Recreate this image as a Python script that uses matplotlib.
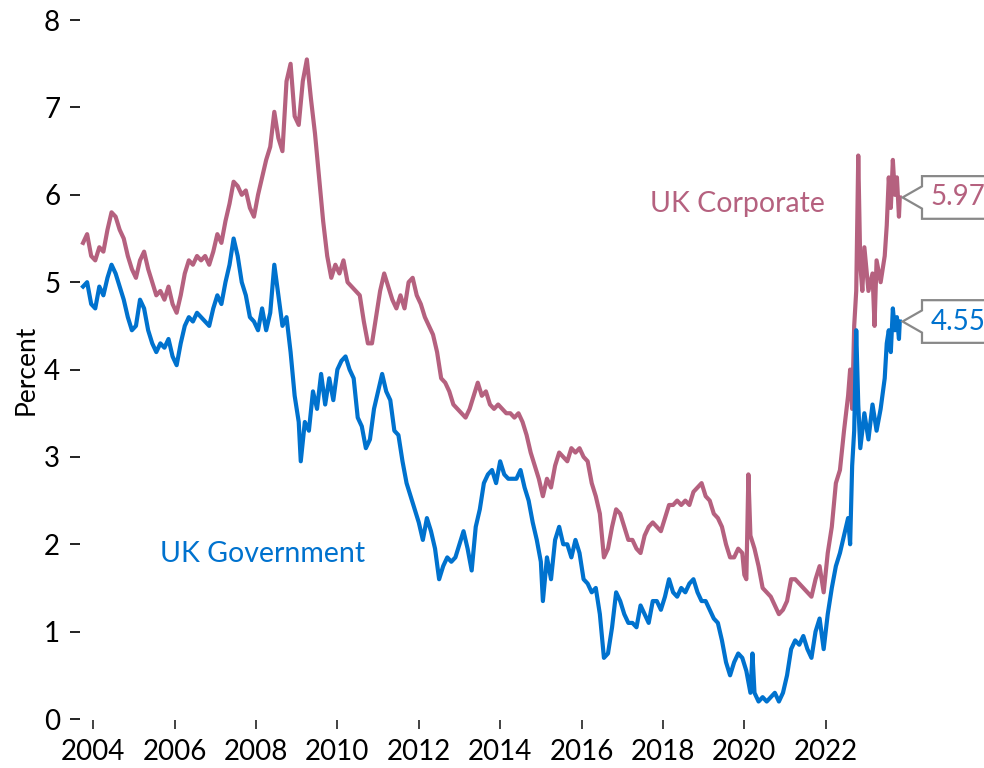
import numpy as np
import matplotlib.pyplot as plt
from matplotlib.path import Path

# UK corporate bond yields (percent)
corp_years = [2003.75, 2003.85, 2003.95, 2004.05, 2004.15, 2004.25, 2004.35, 2004.45, 2004.55, 2004.65,
              2004.75, 2004.85, 2004.95, 2005.05, 2005.15, 2005.25, 2005.35, 2005.45, 2005.55, 2005.65,
              2005.75, 2005.85, 2005.95, 2006.05, 2006.15, 2006.25, 2006.35, 2006.45, 2006.55, 2006.65,
              2006.75, 2006.85, 2006.95, 2007.05, 2007.15, 2007.25, 2007.35, 2007.45, 2007.55, 2007.65,
              2007.75, 2007.85, 2007.95, 2008.05, 2008.15, 2008.25, 2008.35, 2008.45, 2008.55, 2008.65,
              2008.75, 2008.85, 2008.95, 2009.05, 2009.15, 2009.25, 2009.35, 2009.45, 2009.55, 2009.65,
              2009.75, 2009.85, 2009.95, 2010.05, 2010.15, 2010.25, 2010.35, 2010.45, 2010.55, 2010.65,
              2010.75, 2010.85, 2010.95, 2011.05, 2011.15, 2011.25, 2011.35, 2011.45, 2011.55, 2011.65,
              2011.75, 2011.85, 2011.95, 2012.05, 2012.15, 2012.25, 2012.35, 2012.45, 2012.55, 2012.65,
              2012.75, 2012.85, 2012.95, 2013.05, 2013.15, 2013.25, 2013.35, 2013.45, 2013.55, 2013.65,
              2013.75, 2013.85, 2013.95, 2014.05, 2014.15, 2014.25, 2014.35, 2014.45, 2014.55, 2014.65,
              2014.75, 2014.85, 2014.95, 2015.05, 2015.15, 2015.25, 2015.35, 2015.45, 2015.55, 2015.65,
              2015.75, 2015.85, 2015.95, 2016.05, 2016.15, 2016.25, 2016.35, 2016.45, 2016.55, 2016.65,
              2016.75, 2016.85, 2016.95, 2017.05, 2017.15, 2017.25, 2017.35, 2017.45, 2017.55, 2017.65,
              2017.75, 2017.85, 2017.95, 2018.05, 2018.15, 2018.25, 2018.35, 2018.45, 2018.55, 2018.65,
              2018.75, 2018.85, 2018.95, 2019.05, 2019.15, 2019.25, 2019.35, 2019.45, 2019.55, 2019.65,
              2019.75, 2019.85, 2019.95, 2020.0, 2020.05, 2020.1, 2020.15, 2020.25, 2020.35, 2020.45,
              2020.55, 2020.65, 2020.75, 2020.85, 2020.95, 2021.05, 2021.15, 2021.25, 2021.35, 2021.45,
              2021.55, 2021.65, 2021.75, 2021.85, 2021.95, 2022.05, 2022.15, 2022.25, 2022.35, 2022.45,
              2022.55, 2022.6, 2022.65, 2022.7, 2022.75, 2022.8, 2022.85, 2022.9, 2022.95, 2023.05,
              2023.15, 2023.2, 2023.25, 2023.35, 2023.45, 2023.5, 2023.55, 2023.6, 2023.65, 2023.7,
              2023.75, 2023.8, 2023.82]
corp_vals = [5.45, 5.55, 5.3, 5.25, 5.4, 5.35, 5.6, 5.8, 5.75, 5.6,
             5.5, 5.3, 5.15, 5.05, 5.25, 5.35, 5.15, 5.0, 4.85, 4.9,
             4.8, 4.95, 4.75, 4.65, 4.85, 5.1, 5.25, 5.2, 5.3, 5.25,
             5.3, 5.2, 5.35, 5.55, 5.45, 5.7, 5.9, 6.15, 6.1, 6.0,
             6.05, 5.85, 5.75, 6.0, 6.2, 6.4, 6.55, 6.95, 6.65, 6.5,
             7.3, 7.5, 6.9, 6.8, 7.3, 7.55, 7.1, 6.7, 6.2, 5.7,
             5.3, 5.05, 5.2, 5.1, 5.25, 5.0, 4.95, 4.9, 4.85, 4.55,
             4.3, 4.3, 4.6, 4.9, 5.1, 4.95, 4.8, 4.7, 4.85, 4.7,
             5.0, 5.05, 4.85, 4.75, 4.6, 4.5, 4.4, 4.2, 3.9, 3.85,
             3.75, 3.6, 3.55, 3.5, 3.45, 3.55, 3.7, 3.85, 3.7, 3.75,
             3.6, 3.55, 3.6, 3.55, 3.5, 3.5, 3.45, 3.5, 3.4, 3.25,
             3.05, 2.9, 2.75, 2.55, 2.75, 2.65, 2.9, 3.05, 3.0, 2.95,
             3.1, 3.05, 3.1, 3.0, 2.95, 2.7, 2.55, 2.35, 1.85, 1.95,
             2.2, 2.4, 2.35, 2.2, 2.05, 2.05, 1.95, 1.9, 2.1, 2.2,
             2.25, 2.2, 2.15, 2.3, 2.45, 2.45, 2.5, 2.45, 2.5, 2.45,
             2.6, 2.65, 2.7, 2.55, 2.5, 2.35, 2.3, 2.2, 2.0, 1.85,
             1.85, 1.95, 1.9, 1.65, 1.6, 2.8, 2.1, 1.95, 1.75, 1.5,
             1.45, 1.4, 1.3, 1.2, 1.25, 1.35, 1.6, 1.6, 1.55, 1.5,
             1.45, 1.4, 1.6, 1.75, 1.45, 1.9, 2.2, 2.7, 2.85, 3.3,
             3.7, 4.0, 3.55, 4.5, 4.9, 6.45, 5.2, 4.9, 5.4, 4.9,
             5.1, 4.5, 5.25, 5.0, 5.3, 5.65, 6.2, 5.85, 6.4, 6.0,
             6.2, 5.75, 5.97]

# UK government bond yields (percent)
gov_years = [2003.75, 2003.85, 2003.95, 2004.05, 2004.15, 2004.25, 2004.35, 2004.45, 2004.55, 2004.65,
             2004.75, 2004.85, 2004.95, 2005.05, 2005.15, 2005.25, 2005.35, 2005.45, 2005.55, 2005.65,
             2005.75, 2005.85, 2005.95, 2006.05, 2006.15, 2006.25, 2006.35, 2006.45, 2006.55, 2006.75,
             2006.85, 2006.95, 2007.05, 2007.15, 2007.25, 2007.35, 2007.45, 2007.55, 2007.65, 2007.75,
             2007.85, 2007.95, 2008.05, 2008.15, 2008.25, 2008.35, 2008.45, 2008.55, 2008.65, 2008.75,
             2008.85, 2008.95, 2009.05, 2009.1, 2009.2, 2009.3, 2009.4, 2009.5, 2009.6, 2009.7,
             2009.8, 2009.9, 2010.0, 2010.1, 2010.2, 2010.3, 2010.4, 2010.5, 2010.6, 2010.7,
             2010.8, 2010.9, 2011.0, 2011.1, 2011.2, 2011.3, 2011.4, 2011.5, 2011.6, 2011.7,
             2011.8, 2011.9, 2012.0, 2012.1, 2012.2, 2012.3, 2012.4, 2012.5, 2012.6, 2012.7,
             2012.8, 2012.9, 2013.0, 2013.1, 2013.2, 2013.3, 2013.4, 2013.5, 2013.6, 2013.7,
             2013.8, 2013.9, 2014.0, 2014.1, 2014.2, 2014.3, 2014.4, 2014.5, 2014.6, 2014.7,
             2014.8, 2014.9, 2015.0, 2015.05, 2015.15, 2015.25, 2015.35, 2015.45, 2015.55, 2015.65,
             2015.75, 2015.85, 2015.95, 2016.05, 2016.15, 2016.25, 2016.35, 2016.45, 2016.55, 2016.65,
             2016.75, 2016.85, 2016.95, 2017.05, 2017.15, 2017.25, 2017.35, 2017.45, 2017.55, 2017.65,
             2017.75, 2017.85, 2017.95, 2018.05, 2018.15, 2018.25, 2018.35, 2018.45, 2018.55, 2018.65,
             2018.75, 2018.85, 2018.95, 2019.05, 2019.15, 2019.25, 2019.35, 2019.45, 2019.55, 2019.65,
             2019.75, 2019.85, 2019.95, 2020.05, 2020.15, 2020.2, 2020.25, 2020.35, 2020.45, 2020.55,
             2020.65, 2020.75, 2020.85, 2020.95, 2021.05, 2021.15, 2021.25, 2021.35, 2021.45, 2021.55,
             2021.65, 2021.75, 2021.85, 2021.95, 2022.05, 2022.15, 2022.25, 2022.35, 2022.45, 2022.55,
             2022.6, 2022.65, 2022.7, 2022.75, 2022.8, 2022.85, 2022.95, 2023.05, 2023.15, 2023.25,
             2023.35, 2023.45, 2023.5, 2023.55, 2023.6, 2023.65, 2023.7, 2023.75, 2023.8, 2023.82]
gov_vals = [4.95, 5.0, 4.75, 4.7, 4.95, 4.85, 5.05, 5.2, 5.1, 4.95,
            4.8, 4.6, 4.45, 4.5, 4.8, 4.7, 4.45, 4.3, 4.2, 4.3,
            4.25, 4.35, 4.15, 4.05, 4.3, 4.5, 4.6, 4.55, 4.65, 4.55,
            4.5, 4.7, 4.85, 4.75, 5.0, 5.2, 5.5, 5.3, 5.0, 4.85,
            4.6, 4.55, 4.45, 4.7, 4.45, 4.65, 5.2, 4.85, 4.5, 4.6,
            4.2, 3.7, 3.4, 2.95, 3.4, 3.3, 3.75, 3.55, 3.95, 3.6,
            3.9, 3.65, 4.0, 4.1, 4.15, 4.0, 3.9, 3.45, 3.35, 3.1,
            3.2, 3.55, 3.75, 3.95, 3.75, 3.65, 3.3, 3.25, 2.95, 2.7,
            2.55, 2.4, 2.25, 2.05, 2.3, 2.15, 1.95, 1.6, 1.75, 1.85,
            1.8, 1.85, 2.0, 2.15, 1.95, 1.7, 2.2, 2.4, 2.7, 2.8,
            2.85, 2.7, 2.95, 2.8, 2.75, 2.75, 2.75, 2.85, 2.65, 2.5,
            2.25, 2.05, 1.8, 1.35, 1.85, 1.6, 2.05, 2.2, 2.0, 2.0,
            1.85, 2.05, 1.9, 1.6, 1.55, 1.45, 1.5, 1.2, 0.7, 0.75,
            1.05, 1.45, 1.35, 1.2, 1.1, 1.1, 1.05, 1.3, 1.2, 1.1,
            1.35, 1.35, 1.25, 1.4, 1.6, 1.45, 1.4, 1.5, 1.45, 1.55,
            1.6, 1.45, 1.35, 1.35, 1.25, 1.15, 1.1, 0.9, 0.65, 0.5,
            0.65, 0.75, 0.7, 0.55, 0.3, 0.75, 0.3, 0.2, 0.25, 0.2,
            0.25, 0.3, 0.2, 0.3, 0.5, 0.8, 0.9, 0.85, 0.95, 0.8,
            0.7, 1.0, 1.15, 0.8, 1.2, 1.5, 1.75, 1.9, 2.1, 2.3,
            2.0, 2.9, 3.3, 4.45, 3.6, 3.1, 3.5, 3.2, 3.6, 3.3,
            3.55, 3.9, 4.3, 4.45, 4.2, 4.7, 4.45, 4.6, 4.35, 4.55]

year_ticks = [2004, 2006, 2008, 2010, 2012, 2014, 2016, 2018, 2020, 2022]
pct_ticks = [0, 1, 2, 3, 4, 5, 6, 7, 8]

corp_color = '#b5617f'
gov_color = '#0072ce'

plt.rcParams['font.family'] = ['Lato', 'DejaVu Sans']


def callout(x0, y0, width, height, mutation_size):
    # box with a small left-pointing notch, like the value tags in the original
    pad = 0.3 * mutation_size
    x0, y0 = x0 - pad, y0 - pad
    x1, y1 = x0 + width + 2 * pad + 0.2 * mutation_size, y0 + height + 2 * pad
    ym = (y0 + y1) / 2
    half = 0.4 * mutation_size
    depth = 0.7 * mutation_size
    verts = [(x0, y0), (x1, y0), (x1, y1), (x0, y1), (x0, ym + half),
             (x0 - depth, ym), (x0, ym - half), (x0, y0), (x0, y0)]
    codes = [Path.MOVETO] + [Path.LINETO] * 7 + [Path.CLOSEPOLY]
    return Path(verts, codes)


fig = plt.figure(figsize=(9.84, 7.68), dpi=100)
ax = fig.add_axes([0.0844, 0.0638, 0.830, 0.910])

ax.plot(corp_years, corp_vals, color=corp_color, lw=3.0, clip_on=False)
ax.plot(gov_years, gov_vals, color=gov_color, lw=3.0, clip_on=False)

ax.set_xlim(2003.75, 2023.82)
ax.set_ylim(0, 8)
ax.set_xticks(year_ticks)
ax.set_yticks(pct_ticks)
for s in ax.spines.values():
    s.set_visible(False)
ax.spines['left'].set_position(('outward', 2))
ax.spines['bottom'].set_position(('outward', 1))
ax.tick_params(axis='y', length=7.5, width=1.4, pad=7, labelsize=20, color='#222222')
ax.tick_params(axis='x', length=6.5, width=1.2, pad=7, labelsize=20, color='#222222')
ax.set_ylabel('Percent', fontsize=19, labelpad=4)

ax.text(2019.84, 5.89, 'UK Corporate', color=corp_color, fontsize=20.5, ha='center', va='center')
ax.text(2008.17, 1.89, 'UK Government', color=gov_color, fontsize=20.5, ha='center', va='center')

for yrs, vals, col in [(corp_years, corp_vals, corp_color), (gov_years, gov_vals, gov_color)]:
    ax.annotate(f'{vals[-1]:.2f}', xy=(yrs[-1], vals[-1]), xytext=(22, 0),
                textcoords='offset points', ha='left', va='center', fontsize=20, color=col,
                annotation_clip=False,
                bbox=dict(boxstyle=callout, fc='white', ec='#888888', lw=1.6))

fig.savefig('out.png', dpi=100, facecolor='white')
